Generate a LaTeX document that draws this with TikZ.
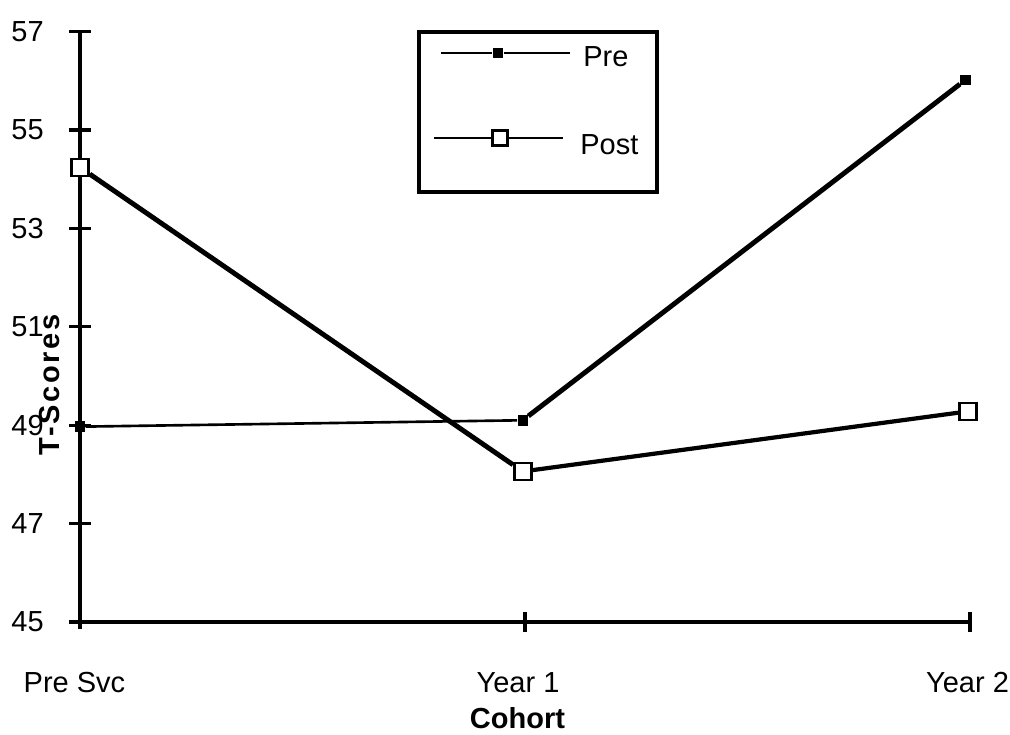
\documentclass[tikz,border=0pt]{standalone}
\usepackage{fontspec}
\setmainfont{Liberation Sans}
\newfontfamily\spacedbold[LetterSpace=9]{Liberation Sans}
\usetikzlibrary{positioning}

\begin{document}
\begin{tikzpicture}
    [x=8.9cm, y=0.984cm,
      every node/.style={font=\fontsize{16.5}{19}\selectfont},
      axis/.style={line width=1.8pt},
      premark/.style={rectangle,fill=black,inner sep=0pt,minimum size=0.21cm},
      postmark/.style={rectangle,draw,fill=white,line width=1.5pt,inner sep=0pt,minimum size=0.34cm},
      thinline/.style={line width=1.5pt},
      thickline/.style={line width=2.8pt},
      ticklabel/.style={anchor=east,inner sep=0pt}]
    \useasboundingbox (-1.6cm,-2.26cm) rectangle (18.6cm,12.44cm);
    \draw[axis] (0,12) -- (0,-0.15);
    \draw[axis] (0,0) -- (2,0);
    \foreach \y/\v in {0/45,2/47,4/49,6/51,8/53,10/55,12/57}
      {\draw[axis] (-0.22cm,\y) -- (0.22cm,\y);
       \node[ticklabel] (yl\v) at ([xshift=-0.72cm]0,\y) {\v};}
    \foreach \x in {1,2}
      \draw[axis] (\x,-0.2) -- (\x,0.2);
    \node (c0) at ([xshift=-0.11cm]0,-1.24) {Pre Svc};
    \node (c1) at ([xshift=-0.14cm]1,-1.24) {Year 1};
    \node (c2) at ([xshift=-0.05cm]2,-1.24) {Year 2};
    \node[font=\fontsize{16.5}{19}\selectfont\bfseries] (cohort) at ([xshift=-0.15cm]1,-1.95) {Cohort};
    \node[rotate=90,font=\fontsize{16.5}{19}\selectfont\spacedbold\bfseries] (tscores) at (-0.6cm,4.74cm) {T-Scores};
    \node[premark] (pre0) at (0,3.97) {};
    \node[premark] (pre1) at (0.995,4.1) {};
    \node[premark] (pre2) at (1.99,11.02) {};
    \node[postmark] (post0) at (0,9.24) {};
    \node[postmark] (post1) at (0.995,3.06) {};
    \node[postmark] (post2) at (1.995,4.28) {};
    \draw[thinline] (pre0) -- (pre1);
    \draw[thickline] (pre1) -- (pre2);
    \draw[thickline] (post0) -- (post1);
    \draw[line width=2.4pt] (post1) -- (post2);
    \node[draw,line width=1.8pt,minimum width=4.76cm,minimum height=3.2cm] (legend) at (9.16cm,10.2cm) {};
    \coordinate (prea) at (7.22cm,11.38cm);
    \coordinate (preb) at (9.8cm,11.38cm);
    \node[premark] (prekey) at (8.36cm,11.38cm) {};
    \draw[thinline] (prea) -- (prekey) -- (preb);
    \node[anchor=west,inner sep=0pt] (pretext) at (10.06cm,11.3cm) {Pre};
    \coordinate (posta) at (7.08cm,9.68cm);
    \coordinate (postb) at (9.66cm,9.68cm);
    \node[postmark,minimum size=0.3cm,line width=1.3pt] (postkey) at (8.4cm,9.68cm) {};
    \draw[thinline] (posta) -- (postkey) -- (postb);
    \node[anchor=west,inner sep=0pt] (posttext) at (10.0cm,9.54cm) {Post};
  \end{tikzpicture}
\end{document}
